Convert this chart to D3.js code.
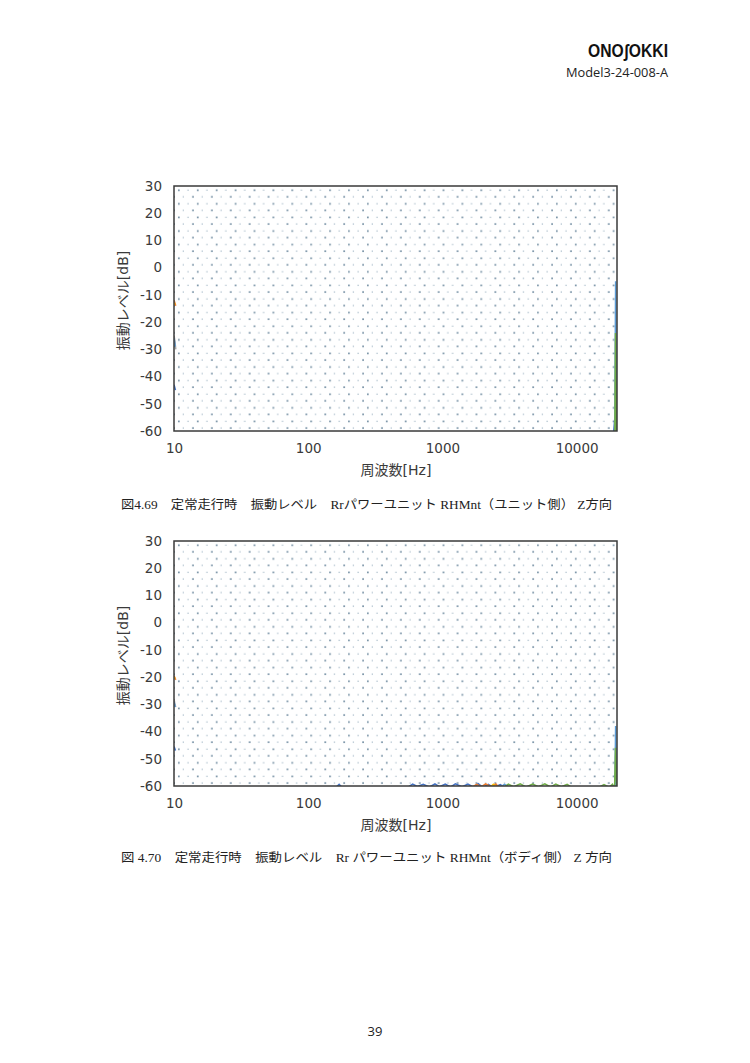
<!DOCTYPE html>
<html><head><meta charset="utf-8">
<script src="https://cdn.jsdelivr.net/npm/d3@7"></script>
<style>
body{margin:0;background:#fff;}
svg{display:block;}
</style></head>
<body>
<script>
// ---------- data ----------
const yTicks = [30,20,10,0,-10,-20,-30,-40,-50,-60];
const xTicks = [10,100,1000,10000];
const freqDomain = [10,20000];
const dbDomain = [-60,30];
const seriesColors = ["#4472C4","#ED7D31","#A5A5A5","#FFC000","#5B9BD5","#70AD47"];

// Fig 4.69 (unit side) spectra [Hz, dB]; null = no value shown
const c1Blue   = [[10,-43],[10.25,-45],[10.4,null],[18500,-66],[19300,-55],[19700,-64],[20000,-60]];
const c1Orange = [[10,-12],[10.3,-14],[10.4,null]];
const c1Gray   = [[10,-25],[10.15,-27],[10.3,-30],[10.4,null]];
const c1Yellow = [[10,-13],[10.2,-13.5],[10.3,null]];
const c1LBlue  = [[10,-26],[10.2,-29],[10.3,null],[19200,-72],[19550,-5],[19850,-70],[20000,-66]];
const c1Green  = [[19200,-74],[19500,-24],[19850,-64],[20000,-58]];

// Fig 4.70 (body side) spectra [Hz, dB]
const c2Blue   = [[10,-45.5],[10.25,-47],[10.4,null],[150,-62],[170,-59.4],[190,-62],[400,-62],[560,-60.3],[600,-59.3],[650,-60.2],[720,-59.4],[800,-60.4],[880,-59.2],[950,-60.3],[1050,-59.3],[1150,-60.4],[1250,-59.2],[1400,-60.3],[1550,-59.3],[1700,-60.4],[1850,-59.2],[2000,-60.5],[2200,-59.4],[2400,-60.6],[2700,-59.5],[3000,-61],[19000,-62],[19600,-58],[20000,-62]];
const c2Orange = [[10,-19.5],[10.3,-21],[10.4,null],[1600,-61],[1800,-59.4],[1950,-60.3],[2100,-59.2],[2300,-60.3],[2500,-59.3],[2700,-61]];
const c2Gray   = [[10,-28],[10.15,-30],[10.3,-31],[10.4,null]];
const c2Yellow = [[10,-20],[10.2,-20.5],[10.3,null],[2200,-61],[2400,-59.4],[2600,-61]];
const c2LBlue  = [[10,-29],[10.2,-31],[10.3,null],[2600,-61],[2900,-59.4],[3200,-60.5],[19200,-72],[19550,-38],[19850,-70],[20000,-66]];
const c2Green  = [[2800,-61],[3100,-59.3],[3400,-60.3],[3800,-59.2],[4200,-60.4],[4700,-59.3],[5200,-60.3],[5800,-59.2],[6400,-60.4],[7000,-59.3],[7700,-60.3],[8500,-59.4],[9500,-61],[14000,-61],[16000,-59.5],[17500,-60.5],[18500,-59.4],[19200,-61],[19500,-46],[19850,-58],[20000,-60]];

const caption1 = "図4.69　定常走行時　振動レベル　Rrパワーユニット RHMnt（ユニット側） Z方向";
const caption2 = "図 4.70　定常走行時　振動レベル　Rr パワーユニット RHMnt（ボディ側） Z 方向";

// ---------- drawing ----------
const W = 750, H = 1063;
const svg = d3.select("body").append("svg").attr("width",W).attr("height",H);
svg.append("rect").attr("width",W).attr("height",H).attr("fill","#fff");

const sans = "'DejaVu Sans','Noto Sans CJK JP',sans-serif";

// header
svg.append("text").attr("x",668).attr("y",57).attr("text-anchor","end")
  .attr("font-family","'Liberation Sans','DejaVu Sans',sans-serif").attr("font-weight","bold")
  .attr("font-size",18).attr("fill","#111")
  .attr("textLength",80).attr("lengthAdjust","spacingAndGlyphs").text("ONOʃOKKI");
svg.append("text").attr("x",668).attr("y",77).attr("text-anchor","end")
  .attr("font-family","'Open Sans','DejaVu Sans',sans-serif")
  .attr("font-size",13.5).attr("fill","#222")
  .attr("textLength",102).attr("lengthAdjust","spacingAndGlyphs").text("Model3-24-008-A");

const defs = svg.append("defs");

function drawChart(top, series, caption, captionY, id){
  const left = 174, right = 617, bottom = top + 245;
  const x = d3.scaleLog().domain(freqDomain).range([left,right]);
  const y = d3.scaleLinear().domain(dbDomain).range([bottom,top]);

  // dotted pattern fill of plot area
  const pat = defs.append("pattern").attr("id","dots"+id).attr("patternUnits","userSpaceOnUse")
    .attr("x",left).attr("y",top).attr("width",18.9).attr("height",13.6);
  const dot = (px,py,s,c)=>pat.append("rect").attr("x",px).attr("y",py).attr("width",s).attr("height",s).attr("fill",c);
  dot(4,3.4,1.7,"#7590a4");
  dot(13.45,3.6,1.2,"#a3b7c6");
  dot(8.7,10.2,1.2,"#a3b7c6");
  dot(18.15,10.0,1.7,"#7590a4");
  dot(-0.75,10.0,1.7,"#7590a4");

  svg.append("rect").attr("x",left).attr("y",top).attr("width",right-left).attr("height",bottom-top)
    .attr("fill","url(#dots"+id+")");

  defs.append("clipPath").attr("id","clip"+id).append("rect")
    .attr("x",left).attr("y",top).attr("width",right-left).attr("height",bottom-top);

  const line = d3.line().defined(d=>d[1]!==null).x(d=>x(d[0])).y(d=>y(d[1]));
  const g = svg.append("g").attr("clip-path","url(#clip"+id+")");
  series.forEach((s,i)=>{
    g.append("path").attr("d",line(s)).attr("fill","none")
      .attr("stroke",seriesColors[i]).attr("stroke-width",1.6);
  });

  // frame
  svg.append("rect").attr("x",left).attr("y",top).attr("width",right-left).attr("height",bottom-top)
    .attr("fill","none").attr("stroke","#3a3a3a").attr("stroke-width",1.5);

  // axes
  const ya = svg.append("g").attr("transform",`translate(${left-12},0)`)
    .call(d3.axisLeft(y).tickValues(yTicks).tickSize(0).tickPadding(0).tickFormat(d=>String(d)));
  ya.select(".domain").remove();
  ya.selectAll("text").attr("font-family",sans).attr("font-size",13.5).attr("fill","#3a3a3a");

  const xa = svg.append("g").attr("transform",`translate(0,${bottom+12})`)
    .call(d3.axisBottom(x).tickValues(xTicks).tickSize(0).tickPadding(0).tickFormat(d=>String(d)));
  xa.select(".domain").remove();
  xa.selectAll("text").attr("font-family",sans).attr("font-size",13.5).attr("fill","#3a3a3a");

  svg.append("text").attr("transform",`translate(128,${(top+bottom)/2-8}) rotate(-90)`)
    .attr("text-anchor","middle").attr("font-family",sans).attr("font-size",14).attr("fill","#3a3a3a")
    .text("振動レベル[dB]");
  svg.append("text").attr("x",396).attr("y",bottom+44).attr("text-anchor","middle")
    .attr("font-family",sans).attr("font-size",14).attr("fill","#3a3a3a").text("周波数[Hz]");

  svg.append("text").attr("x",121).attr("y",captionY)
    .attr("font-family","'Liberation Serif','Noto Sans CJK JP',serif").attr("font-size",12.5)
    .attr("fill","#222").attr("textLength",491).attr("lengthAdjust","spacingAndGlyphs").text(caption);
}

drawChart(186,[c1Blue,c1Orange,c1Gray,c1Yellow,c1LBlue,c1Green],caption1,509,1);
drawChart(541,[c2Blue,c2Orange,c2Gray,c2Yellow,c2LBlue,c2Green],caption2,862,2);

svg.append("text").attr("x",375).attr("y",1036).attr("text-anchor","middle")
  .attr("font-family","'Open Sans','DejaVu Sans',sans-serif").attr("font-size",13).attr("fill","#222").text("39");
</script>
</body></html>
